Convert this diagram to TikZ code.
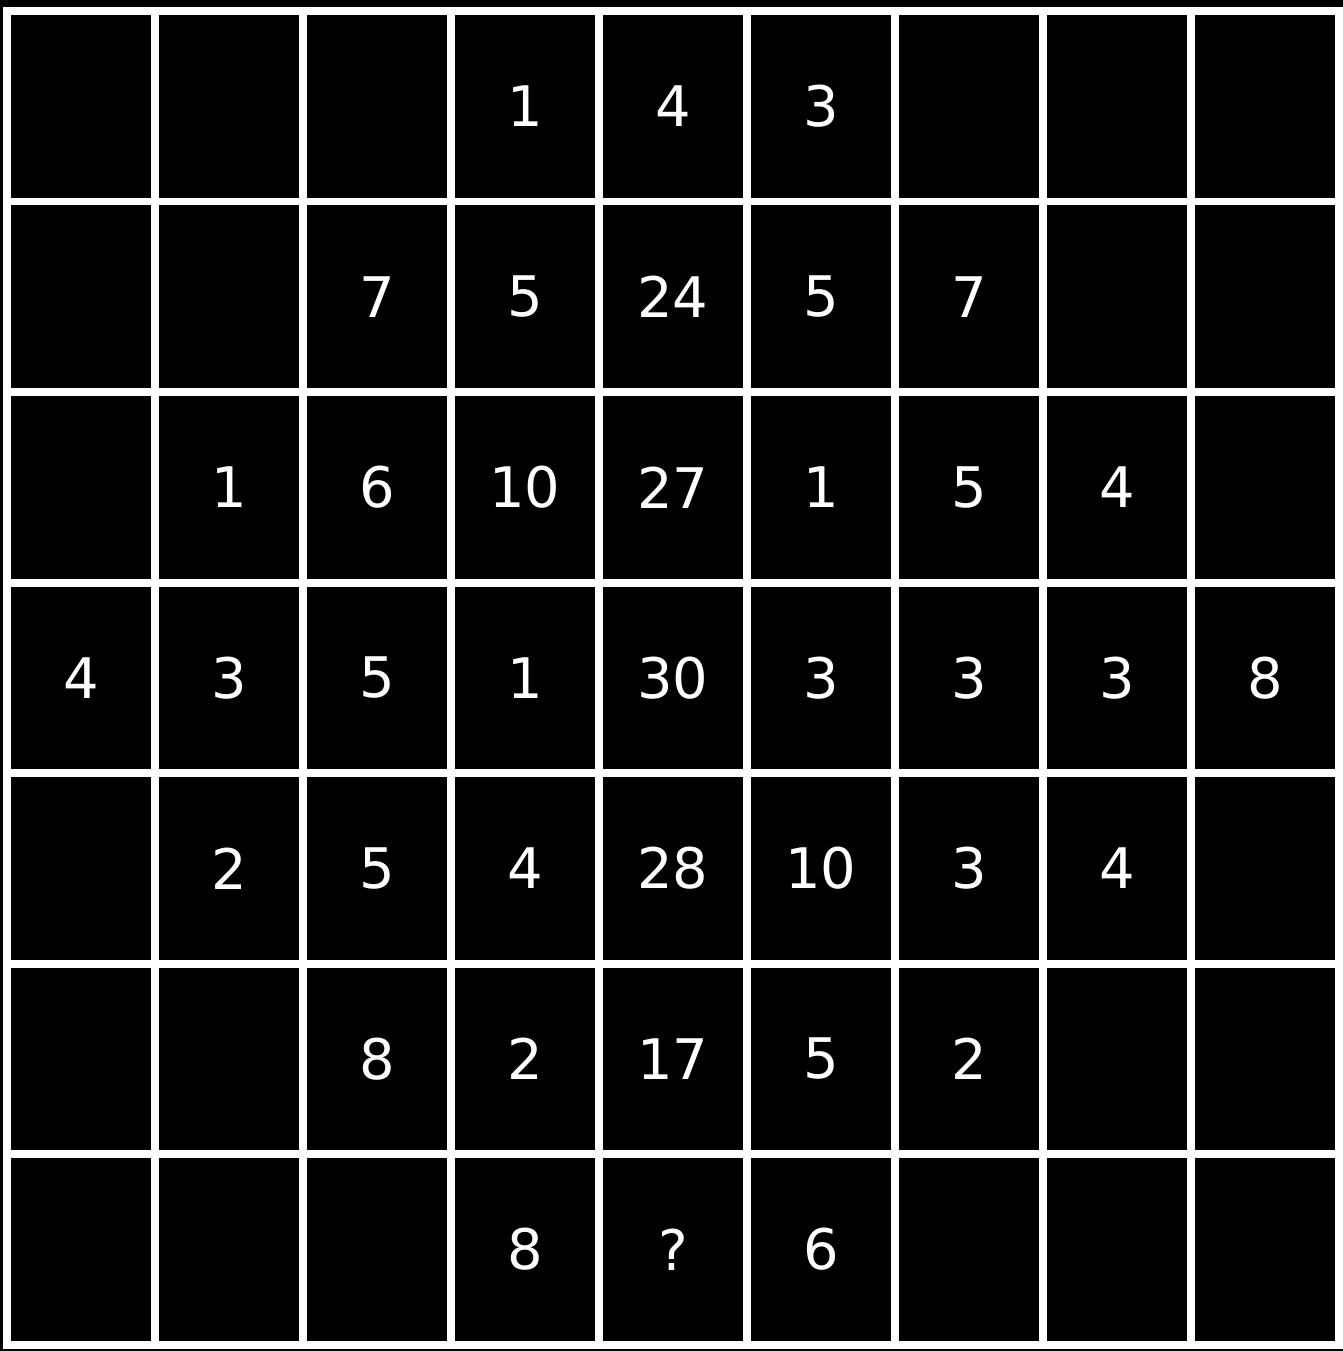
\documentclass[tikz,border=0pt]{standalone}
\usepackage{fontspec}
\newfontfamily\cellfont{DejaVu Sans}
\tikzset{
  cell/.style={draw=white, line width=2.27pt},
  num/.style={text=white, inner sep=0pt, font=\cellfont\fontsize{15.9}{16}\selectfont}
}
\begin{document}
\begin{tikzpicture}[x=0.01cm, y=-0.01cm]
  \fill [black] (0, 0) rectangle (1343, 1351);
  \useasboundingbox (0, 0) rectangle (1343, 1351);

  % grid of cells
  \foreach \c in {0,...,8}
    \foreach \r in {0,...,6}
      \draw [cell] (7+148*\c, 11+190.5*\r) rectangle +(148, 190.5);

  % numbers
  \foreach \c/\r/\t in {3/0/1, 4/0/4, 5/0/3,
      2/1/7, 3/1/5, 4/1/24, 5/1/5, 6/1/7,
      1/2/1, 2/2/6, 3/2/10, 4/2/27, 5/2/1, 6/2/5, 7/2/4,
      0/3/4, 1/3/3, 2/3/5, 3/3/1, 4/3/30, 5/3/3, 6/3/3, 7/3/3, 8/3/8,
      1/4/2, 2/4/5, 3/4/4, 4/4/28, 5/4/10, 6/4/3, 7/4/4,
      2/5/8, 3/5/2, 4/5/17, 5/5/5, 6/5/2,
      3/6/8, 4/6/?, 5/6/6}
    \node [num] (num_\c_\r) at (81+148*\c, 106.25+190.5*\r) {\t};
\end{tikzpicture}
\end{document}
